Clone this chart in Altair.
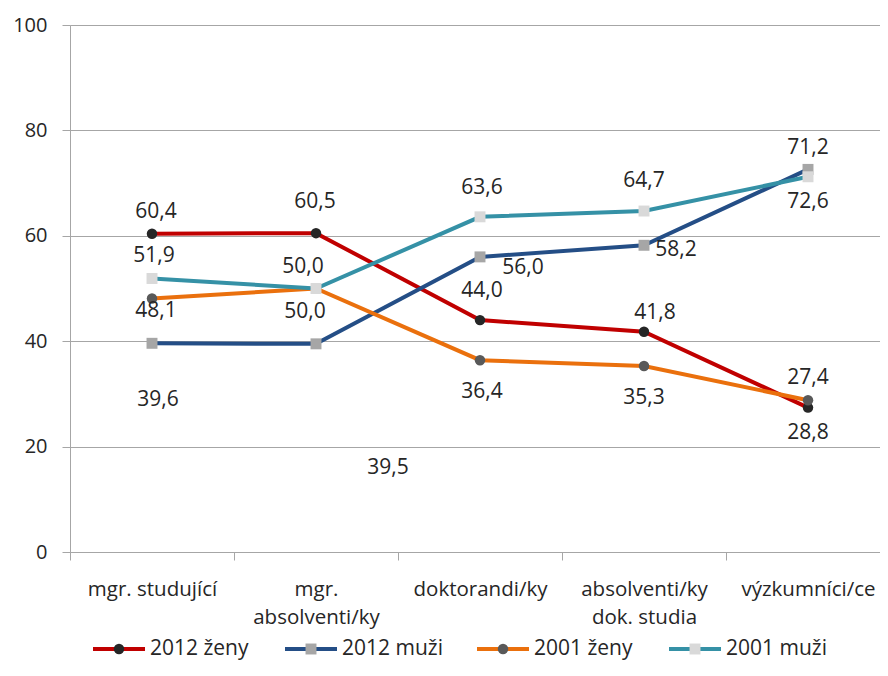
import altair as alt
import pandas as pd

# ---- data ----
categories = ["mgr. studující", "mgr. absolventi/ky", "doktorandi/ky",
              "absolventi/ky dok. studia", "výzkumníci/ce"]
tick_label_lines = [["mgr. studující"], ["mgr.", "absolventi/ky"], ["doktorandi/ky"],
                    ["absolventi/ky", "dok. studia"], ["výzkumníci/ce"]]
series = ["2012 ženy", "2012 muži", "2001 ženy", "2001 muži"]
v_2012_zeny = [60.4, 60.5, 44.0, 41.8, 27.4]
v_2012_muzi = [39.6, 39.5, 56.0, 58.2, 72.6]
v_2001_zeny = [48.1, 50.0, 36.4, 35.3, 28.8]
v_2001_muzi = [51.9, 50.0, 63.6, 64.7, 71.2]
y_ticks = [0, 20, 40, 60, 80, 100]

# ---- styles ----
line_colors = ["#C00000", "#244E86", "#EA700D", "#3591A6"]
marker_colors = ["#262626", "#A6A6A6", "#595959", "#D9D9D9"]
marker_shapes = ["circle", "square", "circle", "square"]
marker_sizes = [110, 120, 110, 120]
# data-label offsets in pixels (as placed in the original)
label_dx = [[4, -1, 2, 11, 0], [6, 72, 43, 32, 0], [4, -11, 2, 0, 0], [2, -13, 2, 0, 0]]
label_dy = [[-22, -31, -29, -19, -30], [57, 124, 11, 5, 33], [12, 23, 32, 32, 33],
            [-22, -22, -29, -30, -29]]

FONT = "Open Sans"
FS = 21
FS_X = 20.5
FS_Y = 20
TXT = "#262626"
GRID = "#A6A6A6"

values = [v_2012_zeny, v_2012_muzi, v_2001_zeny, v_2001_muzi]
rows = []
for i, s in enumerate(series):
    for j, c in enumerate(categories):
        v = values[i][j]
        rows.append(dict(cat=c, ci=j, value=v, series=s, si=i,
                         lc=line_colors[i], mc=marker_colors[i],
                         shape=marker_shapes[i], msize=marker_sizes[i],
                         label=f"{v:.1f}".replace(".", ","),
                         ldx=label_dx[i][j], ldy=label_dy[i][j]))
df = pd.DataFrame(rows)

# multi-line tick labels
expr = "datum.label"
for c, lines in zip(categories, tick_label_lines):
    if len(lines) > 1:
        arr = "[" + ", ".join(f"'{l}'" for l in lines) + "]"
        expr = f"datum.label == '{c}' ? {arr} : " + expr

x_enc = alt.X("cat:N", sort=categories,
              scale=alt.Scale(range=[0, 820], paddingInner=0, paddingOuter=0),
              axis=alt.Axis(title=None, tickBand="extent", labelExpr=expr,
                            labelFont=FONT, labelFontSize=FS_X, labelColor=TXT,
                            domainColor=GRID, tickColor=GRID, tickSize=8,
                            labelPadding=19, labelLineHeight=28, labelAngle=0,
                            labelBaseline="top", labelOverlap=False,
                            labelBound=False, labelFlush=False, grid=False))
y_enc = alt.Y("value:Q", scale=alt.Scale(domain=[0, 100], nice=False),
              axis=alt.Axis(title=None, values=y_ticks, grid=True, gridColor=GRID,
                            domainColor=GRID, tickColor=GRID, tickSize=8,
                            labelFont=FONT, labelFontSize=FS_Y, labelColor=TXT,
                            labelPadding=15))

base = alt.Chart(df)
lines = base.mark_line(strokeWidth=4).encode(
    x=x_enc, y=y_enc,
    color=alt.Color("lc:N", scale=None),
    detail="series:N",
    order="ci:Q")
points = base.mark_point(filled=True, opacity=1, strokeWidth=0).encode(
    x=x_enc, y=y_enc,
    fill=alt.Fill("mc:N", scale=None),
    shape=alt.Shape("shape:N", scale=None),
    size=alt.Size("msize:Q", scale=None),
    order="si:Q")
labels = base.mark_text(font=FONT, fontSize=FS, color=TXT,
                        dx=alt.ExprRef("datum.ldx"),
                        dy=alt.ExprRef("datum.ldy")).encode(
    x=x_enc, y=y_enc, text="label:N")
main = alt.layer(lines, points, labels)

# ---- manual legend (line + marker + text) ----
leg_rows = []
for i, s in enumerate(series):
    x1 = 23 + 192 * i
    leg_rows.append(dict(series=s, x1=x1, x2=x1 + 52, mx=x1 + 26, tx=x1 + 57, ly=624,
                         lc=line_colors[i], mc=marker_colors[i],
                         shape=marker_shapes[i], msize=marker_sizes[i]))
leg = alt.Chart(pd.DataFrame(leg_rows))
leg_line = leg.mark_rule(strokeWidth=4).encode(
    x=alt.X("x1:Q", scale=None, axis=None), x2="x2:Q",
    y=alt.Y("ly:Q", scale=None, axis=None),
    color=alt.Color("lc:N", scale=None))
leg_pt = leg.mark_point(filled=True, opacity=1, strokeWidth=0).encode(
    x=alt.X("mx:Q", scale=None, axis=None),
    y=alt.Y("ly:Q", scale=None, axis=None),
    fill=alt.Fill("mc:N", scale=None),
    shape=alt.Shape("shape:N", scale=None),
    size=alt.Size("msize:Q", scale=None))
leg_txt = leg.mark_text(font=FONT, fontSize=FS, color=TXT, align="left",
                        baseline="middle").encode(
    x=alt.X("tx:Q", scale=None, axis=None),
    y=alt.Y("ly:Q", scale=None, axis=None),
    text="series:N")
legend = alt.layer(leg_line, leg_pt, leg_txt)

chart = alt.layer(main, legend).resolve_scale(x="independent", y="independent").properties(
    width=810, height=527,
    autosize=alt.AutoSizeParams(type="none"),
    padding={"left": 62, "top": 17, "right": 0, "bottom": 111},
    background="white",
).configure_view(stroke=None).configure(font=FONT)

chart.save("out.html", embed_options={"renderer": "svg", "actions": False})
